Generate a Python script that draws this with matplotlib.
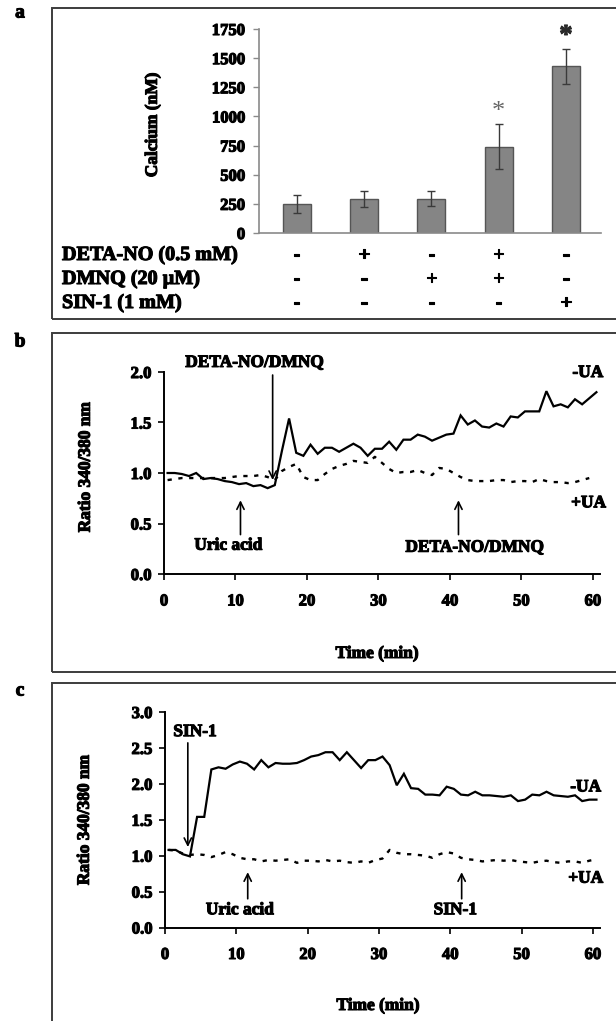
import numpy as np
import matplotlib
matplotlib.use('Agg')
import matplotlib.pyplot as plt
import matplotlib.patches as patches
import matplotlib.patheffects as pe
from matplotlib.text import Text

plt.rcParams['font.family'] = ['Liberation Serif', 'DejaVu Serif']
plt.rcParams['font.weight'] = 'bold'

# ---- panel a data ----
conditions = ['c1', 'c2', 'c3', 'c4', 'c5']
calcium = [250, 293, 293, 741, 1431]
calcium_err = [77, 69, 65, 190, 150]
row_names = ['DETA-NO (0.5 mM)', 'DMNQ (20 \u00b5M)', 'SIN-1 (1 mM)']
deta_no = ['-', '+', '-', '+', '-']
dmnq = ['-', '-', '+', '+', '-']
sin1 = ['-', '-', '-', '-', '+']
signif = ['', '', '', '*', '*']

# ---- panel b/c data (ratio 340/380 nm) ----
minutes = [0.5, 1.5, 2.5, 3.5, 4.5, 5.5, 6.5, 7.5, 8.5, 9.5,
           10.5, 11.5, 12.5, 13.5, 14.5, 15.5, 16.5, 17.5, 18.5, 19.5,
           20.5, 21.5, 22.5, 23.5, 24.5, 25.5, 26.5, 27.5, 28.5, 29.5,
           30.5, 31.5, 32.5, 33.5, 34.5, 35.5, 36.5, 37.5, 38.5, 39.5,
           40.5, 41.5, 42.5, 43.5, 44.5, 45.5, 46.5, 47.5, 48.5, 49.5,
           50.5, 51.5, 52.5, 53.5, 54.5, 55.5, 56.5, 57.5, 58.5, 59.5,
           60.5]

b_minus_ua = [1.00, 1.00, 0.99, 0.97, 1.00, 0.94, 0.95, 0.94, 0.92, 0.91,
              0.89, 0.90, 0.87, 0.88, 0.85, 0.88, 1.22, 1.54, 1.20, 1.17,
              1.28, 1.19, 1.25, 1.25, 1.21, 1.25, 1.29, 1.25, 1.17, 1.24,
              1.24, 1.31, 1.23, 1.33, 1.33, 1.38, 1.36, 1.32, 1.35, 1.38,
              1.39, 1.57, 1.48, 1.52, 1.46, 1.45, 1.49, 1.46, 1.56, 1.55,
              1.61, 1.61, 1.61, 1.81, 1.66, 1.68, 1.65, 1.73, 1.68, 1.74,
              1.80]
b_plus_ua = [0.93, 0.94, 0.95, 0.95, 0.95, 0.95, 0.95, 0.95, 0.95, 0.96,
             0.97, 0.97, 0.97, 0.98, 0.96, 0.93, 1.02, 1.06, 1.09, 0.96,
             0.93, 0.93, 0.99, 1.04, 1.07, 1.09, 1.12, 1.11, 1.10, 1.16,
             1.10, 1.04, 1.00, 1.01, 1.01, 1.03, 1.00, 0.98, 1.05, 1.04,
             1.00, 0.96, 0.93, 0.92, 0.92, 0.92, 0.93, 0.93, 0.91, 0.92,
             0.92, 0.91, 0.94, 0.92, 0.91, 0.91, 0.90, 0.91, 0.93, 0.95]

c_minus_ua = [1.08, 1.08, 1.02, 0.99, 1.54, 1.54, 2.20, 2.23, 2.21, 2.27,
              2.31, 2.28, 2.20, 2.33, 2.23, 2.29, 2.28, 2.28, 2.29, 2.33,
              2.38, 2.40, 2.44, 2.44, 2.33, 2.44, 2.33, 2.22, 2.33, 2.33,
              2.38, 2.26, 1.98, 2.14, 1.94, 1.93, 1.85, 1.85, 1.84, 1.96,
              1.93, 1.85, 1.84, 1.89, 1.84, 1.84, 1.83, 1.82, 1.84, 1.76,
              1.78, 1.85, 1.84, 1.89, 1.84, 1.83, 1.82, 1.84, 1.76, 1.78,
              1.78]
c_plus_ua = [1.08, 1.07, 1.03, 1.01, 1.02, 1.01, 0.98, 1.01, 1.05, 1.02,
             0.97, 0.95, 0.95, 0.92, 0.94, 0.93, 0.94, 0.95, 0.90, 0.93,
             0.93, 0.92, 0.94, 0.92, 0.93, 0.91, 0.90, 0.92, 0.90, 0.94,
             0.96, 1.08, 1.04, 1.02, 1.02, 1.01, 1.00, 0.97, 1.02, 1.05,
             1.03, 0.97, 0.95, 0.94, 0.92, 0.93, 0.94, 0.93, 0.94, 0.92,
             0.91, 0.90, 0.92, 0.93, 0.91, 0.90, 0.92, 0.92, 0.90, 0.93,
             0.95]

W, H = 616, 1021
fig = plt.figure(figsize=(W / 100, H / 100), dpi=100)


def fig_box(left, top, right, bottom):
    # pixel box -> figure fraction [l, b, w, h]
    return [left / W, 1 - bottom / H, (right - left) / W, (bottom - top) / H]


# panel frames
frame_kw = dict(transform=fig.transFigure, fill=False, ec='#3c3c3c', lw=1.4)
fig.add_artist(patches.Rectangle((52 / W, 1 - 319 / H), 1.0, 311 / H, **frame_kw))
fig.add_artist(patches.Rectangle((52 / W, 1 - 672 / H), 1.0, 339 / H, **frame_kw))
fig.add_artist(patches.Rectangle((52 / W, -0.05), 1.0, 0.05 + 1 - 683 / H, **frame_kw))

for lab, ypx in [('a', 13), ('b', 342), ('c', 691)]:
    fig.text(20 / W, 1 - ypx / H, lab, fontsize=14, fontweight='bold',
             ha='center', va='center')

# ---------------- panel a ----------------
axa = fig.add_axes(fig_box(259, 29, 601, 233))
x = np.arange(len(conditions))
axa.bar(x, calcium, width=0.42, color='#858585', edgecolor='#555555', lw=1.0,
        zorder=2)
axa.errorbar(x, calcium, yerr=calcium_err, fmt='none', ecolor='#3a3a3a',
             elinewidth=1.0, capsize=3, capthick=1.0, zorder=3)
stars = []
for xi, val, err, s in zip(x, calcium, calcium_err, signif):
    if s:
        stars.append(axa.text(xi, val + err + 110, s, ha='center', va='center',
                              fontsize=19, color='#2a2a2a'))
axa.set_xlim(-0.56, 4.52)
axa.set_ylim(0, 1750)
axa.set_yticks(np.arange(0, 1751, 250))
axa.set_xticks([])
for sp in ['top', 'right']:
    axa.spines[sp].set_visible(False)
for sp in ['left', 'bottom']:
    axa.spines[sp].set_color('#8a8a8a')
    axa.spines[sp].set_linewidth(1.2)
axa.tick_params(axis='y', direction='out', length=4, width=1.0,
                color='#8a8a8a', labelsize=12, pad=6)
axa.set_ylabel('Calcium (nM)', fontsize=12.5, fontweight='bold')
axa.yaxis.set_label_coords(-0.287, 0.53)

row_y = [255, 279, 303]
for name, signs, ypx in zip(row_names, [deta_no, dmnq, sin1], row_y):
    fig.text(62 / W, 1 - ypx / H, name, fontsize=14.5, fontweight='bold',
             ha='left', va='center')
    yax = (233 - ypx) / 204
    for xi, s in zip(x, signs):
        axa.text(xi, yax, s, transform=axa.get_xaxis_transform(),
                 ha='center', va='center', fontsize=14.5, clip_on=False)

# ---------------- panels b and c ----------------
arrow_kw = dict(arrowstyle='->', lw=1.2, color='black', shrinkA=0, shrinkB=0,
                mutation_scale=13)


def trace_axes(rect, ymax, minus_ua, plus_ua):
    ax = fig.add_axes(rect)
    ax.plot(minutes[:len(minus_ua)], minus_ua, color='black', lw=1.6,
            solid_joinstyle='miter')
    ax.plot(minutes[:len(plus_ua)], plus_ua, color='black', lw=1.7,
            linestyle=(0, (1.8, 2.8)), dash_capstyle='butt')
    ax.set_xlim(0, 61)
    ax.set_ylim(0, ymax)
    ax.set_xticks(np.arange(0, 61, 10))
    ax.set_yticks(np.arange(0, ymax + 0.01, 0.5))
    ax.yaxis.set_major_formatter(matplotlib.ticker.FormatStrFormatter('%.1f'))
    for sp in ['top', 'right']:
        ax.spines[sp].set_visible(False)
    for sp in ['left', 'bottom']:
        ax.spines[sp].set_linewidth(1.4)
    ax.tick_params(axis='x', direction='out', length=4, width=1.2,
                   labelsize=12, pad=10)
    ax.tick_params(axis='y', direction='out', length=4, width=1.2,
                   labelsize=12, pad=5)
    ax.set_xlabel('Time (min)', fontsize=12.5, fontweight='bold')
    ax.set_ylabel('Ratio 340/380 nm', fontsize=12.5, fontweight='bold')
    return ax


axb = trace_axes(fig_box(164, 372, 600, 574), 2.0, b_minus_ua, b_plus_ua)
axb.xaxis.set_label_coords(0.489, -0.356)
axb.yaxis.set_label_coords(-0.161, 0.53)
axb.annotate('', xy=(15.2, 0.93), xytext=(15.2, 1.97), arrowprops=arrow_kw,
             annotation_clip=False)
axb.text(12.7, 2.09, 'DETA-NO/DMNQ', ha='center', va='center', fontsize=12.5,
         clip_on=False)
axb.annotate('', xy=(10.7, 0.73), xytext=(10.7, 0.39), arrowprops=arrow_kw)
axb.text(9.0, 0.28, 'Uric acid', ha='center', va='center', fontsize=12.5)
axb.annotate('', xy=(41.2, 0.73), xytext=(41.2, 0.39), arrowprops=arrow_kw)
axb.text(43.5, 0.26, 'DETA-NO/DMNQ', ha='center', va='center', fontsize=12.5)
axb.text(59.3, 1.99, '-UA', ha='center', va='center', fontsize=12.5, clip_on=False)
axb.text(59.4, 0.70, '+UA', ha='center', va='center', fontsize=12.5, clip_on=False)

axc = trace_axes(fig_box(165, 712, 600, 927.5), 3.0, c_minus_ua, c_plus_ua)
axc.xaxis.set_label_coords(0.490, -0.327)
axc.yaxis.set_label_coords(-0.166, 0.50)
axc.annotate('', xy=(3.2, 1.12), xytext=(3.2, 2.57), arrowprops=arrow_kw)
axc.text(4.2, 2.72, 'SIN-1', ha='center', va='center', fontsize=12.5)
axc.annotate('', xy=(11.6, 0.77), xytext=(11.6, 0.40), arrowprops=arrow_kw)
axc.text(10.5, 0.24, 'Uric acid', ha='center', va='center', fontsize=12.5)
axc.annotate('', xy=(41.6, 0.77), xytext=(41.6, 0.40), arrowprops=arrow_kw)
axc.text(40.7, 0.24, 'SIN-1', ha='center', va='center', fontsize=12.5)
axc.text(59.0, 1.95, '-UA', ha='center', va='center', fontsize=12.5, clip_on=False)
axc.text(59.0, 0.68, '+UA', ha='center', va='center', fontsize=12.5, clip_on=False)

# heavier strokes so the serif text reads as bold as the original
fig.canvas.draw()
for t in fig.findobj(Text):
    if t.get_text():
        t.set_path_effects([pe.withStroke(linewidth=0.8, foreground=t.get_color())])
# the first star is drawn lighter in the original
stars[0].set_path_effects([])
stars[0].set_color('#666666')
stars[0].set_fontweight('normal')

fig.savefig('out.png', dpi=100)
